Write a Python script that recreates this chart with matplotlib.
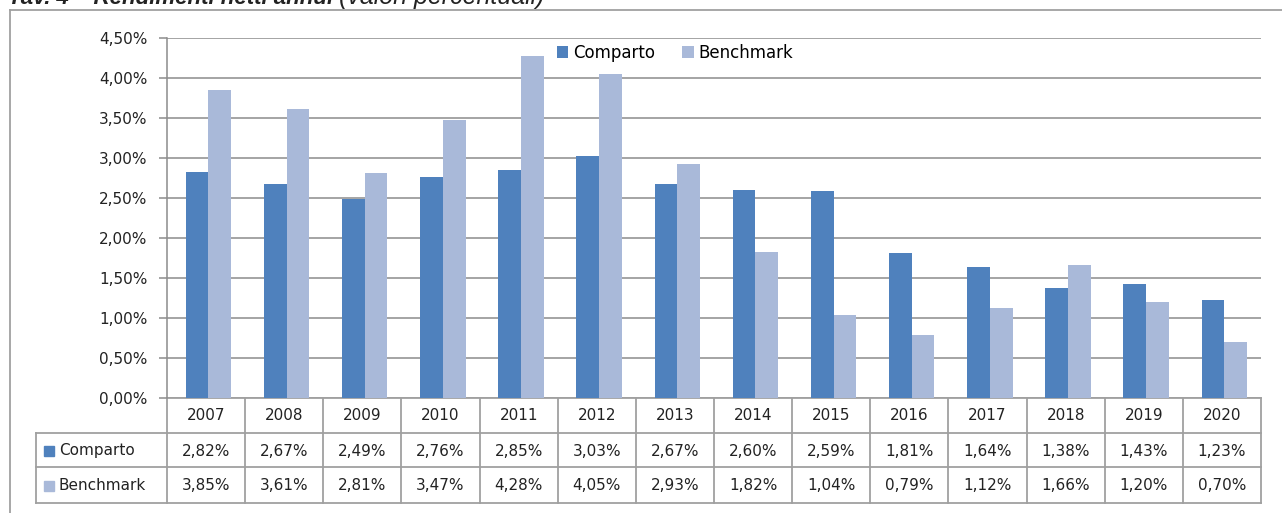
import numpy as np
import matplotlib.pyplot as plt
from matplotlib.transforms import blended_transform_factory

years = ['2007', '2008', '2009', '2010', '2011', '2012', '2013',
         '2014', '2015', '2016', '2017', '2018', '2019', '2020']
comparto = [2.82, 2.67, 2.49, 2.76, 2.85, 3.03, 2.67, 2.60, 2.59, 1.81, 1.64, 1.38, 1.43, 1.23]
benchmark = [3.85, 3.61, 2.81, 3.47, 4.28, 4.05, 2.93, 1.82, 1.04, 0.79, 1.12, 1.66, 1.20, 0.70]
y_ticks = [0, 0.5, 1.0, 1.5, 2.0, 2.5, 3.0, 3.5, 4.0, 4.5]

c_comp = '#4F81BD'
c_bench = '#A9B9D9'
grid_c = '#8C8C8C'
line_c = '#A0A0A0'
txt_c = '#222222'

plt.rcParams['font.family'] = ['DejaVu Sans']

W, H = 1282, 513
fig = plt.figure(figsize=(W / 100, H / 100), dpi=100)


def fx(px):
    return px / W


def fy(py):
    return 1 - py / H


def pct(v):
    return f'{v:.2f}%'.replace('.', ',')


# plot area in pixels: x 167..1261, y 38..398
ax = fig.add_axes([fx(167), fy(398), fx(1261) - fx(167), fy(38) - fy(398)])
x = np.arange(len(years))
bw = 0.29
ax.bar(x - bw / 2 + 0.03, comparto, bw, color=c_comp, label='Comparto', zorder=3)
ax.bar(x + bw / 2 + 0.03, benchmark, bw, color=c_bench, label='Benchmark', zorder=3)
ax.set_xlim(-0.5, len(years) - 0.5)
ax.set_ylim(0, 4.5)
ax.set_yticks(y_ticks)
ax.set_yticklabels([pct(v) for v in y_ticks], fontsize=11, color=txt_c)
ax.set_xticks([])
ax.tick_params(axis='y', length=6, color=grid_c, width=1.1, pad=8)
ax.grid(axis='y', color=grid_c, linewidth=1.1, zorder=0)
for s in ['top', 'right', 'bottom']:
    ax.spines[s].set_visible(False)
ax.spines['left'].set_color(grid_c)
ax.spines['left'].set_linewidth(1.1)

ax.legend(loc='center', bbox_to_anchor=((675 - 167) / (1261 - 167), (398 - 53) / (398 - 38)),
          ncol=2, frameon=False, fontsize=12, handlelength=0.7, handleheight=0.7,
          handletextpad=0.3, columnspacing=1.6)

# data table under the plot
trans = blended_transform_factory(ax.transData, fig.transFigure)
col_w = (1261 - 167) / len(years)
left_col = -0.5 - (167 - 36) / col_w
row_y = [398, 433, 467, 503]
for i, py in enumerate(row_y):
    x0 = -0.5 if i == 0 else left_col
    ax.plot([x0, len(years) - 0.5], [fy(py), fy(py)], transform=trans,
            color=line_c, linewidth=1.3, clip_on=False)
for k in range(len(years) + 1):
    ax.plot([k - 0.5, k - 0.5], [fy(398), fy(503)], transform=trans,
            color=line_c, linewidth=1.3, clip_on=False)
ax.plot([left_col, left_col], [fy(433), fy(503)], transform=trans,
        color=line_c, linewidth=1.3, clip_on=False)

for k, yr in enumerate(years):
    ax.text(k, fy(416), yr, transform=trans, ha='center', va='center', fontsize=11, color=txt_c)
    ax.text(k, fy(451), pct(comparto[k]), transform=trans,
            ha='center', va='center', fontsize=11, color=txt_c)
    ax.text(k, fy(486), pct(benchmark[k]), transform=trans,
            ha='center', va='center', fontsize=11, color=txt_c)

for py, lab, col in [(451, 'Comparto', c_comp), (486, 'Benchmark', c_bench)]:
    fig.patches.append(plt.Rectangle((fx(44), fy(py + 5)), fx(10), 10 / H,
                                     transform=fig.transFigure, color=col))
    fig.text(fx(59), fy(py), lab, ha='left', va='center', fontsize=11, color=txt_c)

# outer frame
fig.add_artist(plt.Line2D([fx(10), 1], [fy(10), fy(10)], color=line_c, linewidth=1.3))
fig.add_artist(plt.Line2D([fx(10), fx(10)], [fy(10), 0], color=line_c, linewidth=1.3))

# caption, cut off at the top edge as in the source
t1 = fig.text(fx(8), fy(4), 'Tav. 4 \u2013 Rendimenti netti annui ', ha='left', va='baseline',
              fontsize=16, fontweight='bold', fontstyle='italic', color=txt_c,
              family='Liberation Sans')
r = fig.canvas.get_renderer()
x_end = t1.get_window_extent(r).x1
fig.text(x_end / W, fy(4), '(valori percentuali)', ha='left', va='baseline',
         fontsize=18, fontstyle='italic', color=txt_c, family='Liberation Sans')

fig.savefig('out.png', dpi=100)
